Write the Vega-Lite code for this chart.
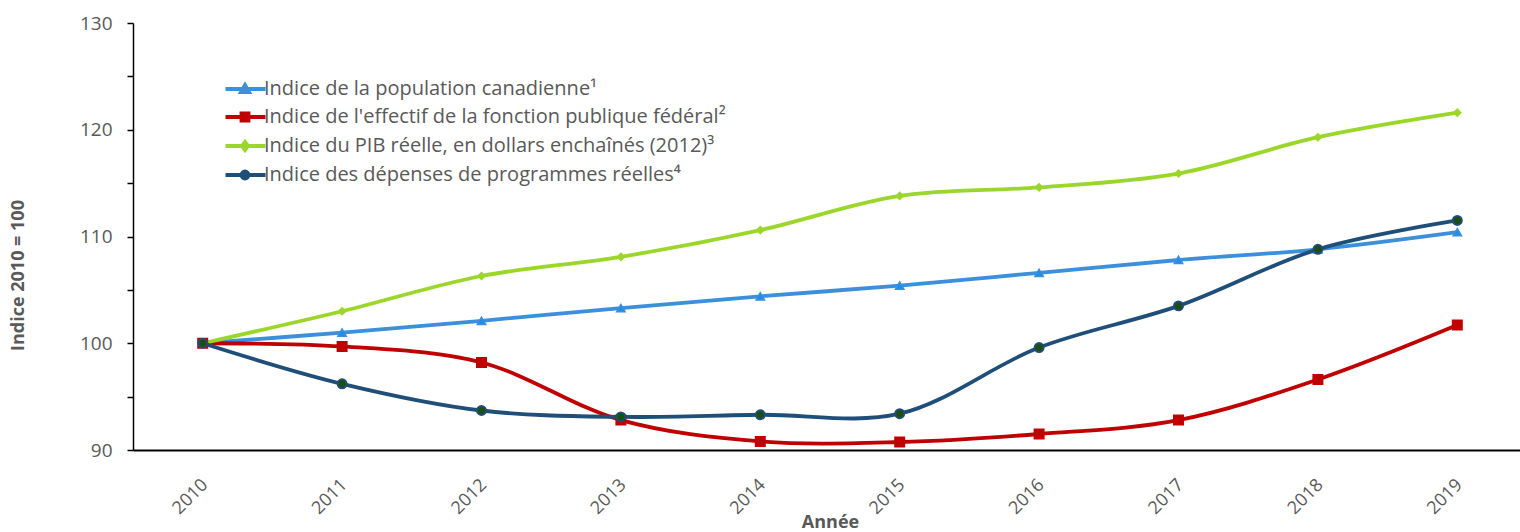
{
  "$schema": "https://vega.github.io/schema/vega-lite/v6.json",
  "width": 1394,
  "height": 427,
  "autosize": {"type": "none"},
  "padding": {"left": 133, "top": 23, "right": 0, "bottom": 82},
  "background": "white",
  "config": {
    "view": {"stroke": null},
    "font": "Open Sans",
    "axis": {"grid": false, "labelFont": "Open Sans", "titleFont": "Open Sans", "labelColor": "#595959", "titleColor": "#595959"}
  },
  "data": {
    "values": [
      {"year": "2010", "series": "Indice de la population canadienne¹", "value": 100},
      {"year": "2011", "series": "Indice de la population canadienne¹", "value": 101.0},
      {"year": "2012", "series": "Indice de la population canadienne¹", "value": 102.1},
      {"year": "2013", "series": "Indice de la population canadienne¹", "value": 103.3},
      {"year": "2014", "series": "Indice de la population canadienne¹", "value": 104.4},
      {"year": "2015", "series": "Indice de la population canadienne¹", "value": 105.4},
      {"year": "2016", "series": "Indice de la population canadienne¹", "value": 106.6},
      {"year": "2017", "series": "Indice de la population canadienne¹", "value": 107.8},
      {"year": "2018", "series": "Indice de la population canadienne¹", "value": 108.8},
      {"year": "2019", "series": "Indice de la population canadienne¹", "value": 110.4},
      {"year": "2010", "series": "Indice de l'effectif de la fonction publique fédéral²", "value": 100},
      {"year": "2011", "series": "Indice de l'effectif de la fonction publique fédéral²", "value": 99.7},
      {"year": "2012", "series": "Indice de l'effectif de la fonction publique fédéral²", "value": 98.2},
      {"year": "2013", "series": "Indice de l'effectif de la fonction publique fédéral²", "value": 92.8},
      {"year": "2014", "series": "Indice de l'effectif de la fonction publique fédéral²", "value": 90.8},
      {"year": "2015", "series": "Indice de l'effectif de la fonction publique fédéral²", "value": 90.75},
      {"year": "2016", "series": "Indice de l'effectif de la fonction publique fédéral²", "value": 91.5},
      {"year": "2017", "series": "Indice de l'effectif de la fonction publique fédéral²", "value": 92.8},
      {"year": "2018", "series": "Indice de l'effectif de la fonction publique fédéral²", "value": 96.6},
      {"year": "2019", "series": "Indice de l'effectif de la fonction publique fédéral²", "value": 101.7},
      {"year": "2010", "series": "Indice du PIB réelle, en dollars enchaînés (2012)³", "value": 100},
      {"year": "2011", "series": "Indice du PIB réelle, en dollars enchaînés (2012)³", "value": 103.0},
      {"year": "2012", "series": "Indice du PIB réelle, en dollars enchaînés (2012)³", "value": 106.3},
      {"year": "2013", "series": "Indice du PIB réelle, en dollars enchaînés (2012)³", "value": 108.1},
      {"year": "2014", "series": "Indice du PIB réelle, en dollars enchaînés (2012)³", "value": 110.6},
      {"year": "2015", "series": "Indice du PIB réelle, en dollars enchaînés (2012)³", "value": 113.8},
      {"year": "2016", "series": "Indice du PIB réelle, en dollars enchaînés (2012)³", "value": 114.6},
      {"year": "2017", "series": "Indice du PIB réelle, en dollars enchaînés (2012)³", "value": 115.9},
      {"year": "2018", "series": "Indice du PIB réelle, en dollars enchaînés (2012)³", "value": 119.3},
      {"year": "2019", "series": "Indice du PIB réelle, en dollars enchaînés (2012)³", "value": 121.6},
      {"year": "2010", "series": "Indice des dépenses de programmes réelles⁴", "value": 100},
      {"year": "2011", "series": "Indice des dépenses de programmes réelles⁴", "value": 96.2},
      {"year": "2012", "series": "Indice des dépenses de programmes réelles⁴", "value": 93.7},
      {"year": "2013", "series": "Indice des dépenses de programmes réelles⁴", "value": 93.1},
      {"year": "2014", "series": "Indice des dépenses de programmes réelles⁴", "value": 93.3},
      {"year": "2015", "series": "Indice des dépenses de programmes réelles⁴", "value": 93.4},
      {"year": "2016", "series": "Indice des dépenses de programmes réelles⁴", "value": 99.6},
      {"year": "2017", "series": "Indice des dépenses de programmes réelles⁴", "value": 103.5},
      {"year": "2018", "series": "Indice des dépenses de programmes réelles⁴", "value": 108.8},
      {"year": "2019", "series": "Indice des dépenses de programmes réelles⁴", "value": 111.5}
    ]
  },
  "encoding": {
    "x": {
      "field": "year", "type": "ordinal",
      "scale": {"type": "point", "padding": 0.5},
      "axis": {
        "title": "Année", "titleFontSize": 18, "titleFontWeight": "bold", "titleY": 63, "titleBaseline": "top",
        "labelAngle": -45, "labelAlign": "right", "labelBaseline": "middle", "labelFontSize": 18, "labelPadding": 32, "labelOffset": 2,
        "ticks": false, "domainColor": "#000000", "domainWidth": 2
      }
    },
    "y": {
      "field": "value", "type": "quantitative",
      "scale": {"domain": [90, 130], "nice": false, "zero": false},
      "axis": {
        "title": "Indice 2010 = 100", "titleFontSize": 18, "titleFontWeight": "bold", "titlePadding": 52, "titleY": 252,
        "values": [90, 95, 100, 105, 110, 115, 120, 125, 130],
        "labelExpr": "datum.value % 10 === 0 ? datum.label : ''",
        "labelFontSize": 19, "labelPadding": 15, "tickSize": 6, "tickColor": "#000000", "tickWidth": 1.5,
        "domainColor": "#000000", "domainWidth": 1.5
      }
    }
  },
  "layer": [
    {
      "mark": {"type": "line", "interpolate": "catmull-rom", "strokeWidth": 3.8},
      "encoding": {
        "color": {
          "field": "series", "type": "nominal", "sort": null,
          "scale": {
            "domain": ["Indice de la population canadienne¹", "Indice de l'effectif de la fonction publique fédéral²", "Indice du PIB réelle, en dollars enchaînés (2012)³", "Indice des dépenses de programmes réelles⁴"],
            "range": ["#3B8FDB", "#C00000", "#9BD62A", "#1F4E79"]
          },
          "legend": {
            "title": null, "orient": "none", "legendX": 102, "legendY": 56, "padding": 0,
            "labelFontSize": 20, "labelColor": "#595959", "labelFont": "Open Sans", "labelLimit": 0,
            "symbolSize": 100, "labelOffset": 9, "rowPadding": 5,
            "symbolType": {"expr": "['M-3.9,0H4.1M0,-0.8L0.8,0.6H-0.8Z','M-3.9,0H4.1M-0.7,-0.7H0.7V0.7H-0.7Z','M-3.9,0H4.1M0,-0.8L0.6,0L0,0.8L-0.6,0Z','M-3.9,0H4.1M-0.7,0A0.7,0.7,0,1,0,0.7,0A0.7,0.7,0,1,0,-0.7,0Z'][indexof(domain('color'), datum.value)]"},
            "symbolFillColor": {"expr": "indexof(domain('color'), datum.value) == 3 ? '#1E4D14' : scale('color', datum.value)"},
            "symbolStrokeColor": {"expr": "scale('color', datum.value)"},
            "symbolStrokeWidth": 3.8,
            "symbolOpacity": 1
          }
        }
      }
    },
    {
      "transform": [{"filter": {"field": "series", "equal": "Indice de la population canadienne¹"}}],
      "mark": {"type": "point", "shape": "triangle-up", "filled": true, "fill": "#1C8FE6", "stroke": "#3B8FDB", "strokeWidth": 1.5, "size": 70, "opacity": 1}
    },
    {
      "transform": [{"filter": {"field": "series", "equal": "Indice de l'effectif de la fonction publique fédéral²"}}],
      "mark": {"type": "point", "shape": "square", "filled": true, "fill": "#C00000", "stroke": "#C00000", "strokeWidth": 1.5, "size": 90, "opacity": 1}
    },
    {
      "transform": [{"filter": {"field": "series", "equal": "Indice du PIB réelle, en dollars enchaînés (2012)³"}}],
      "mark": {"type": "point", "shape": "diamond", "filled": true, "fill": "#9BD62A", "stroke": "#9BD62A", "strokeWidth": 1.5, "size": 50, "opacity": 1}
    },
    {
      "transform": [{"filter": {"field": "series", "equal": "Indice des dépenses de programmes réelles⁴"}}],
      "mark": {"type": "point", "shape": "circle", "filled": true, "fill": "#1E4D14", "stroke": "#1F4E79", "strokeWidth": 2, "size": 80, "opacity": 1}
    }
  ]
}
